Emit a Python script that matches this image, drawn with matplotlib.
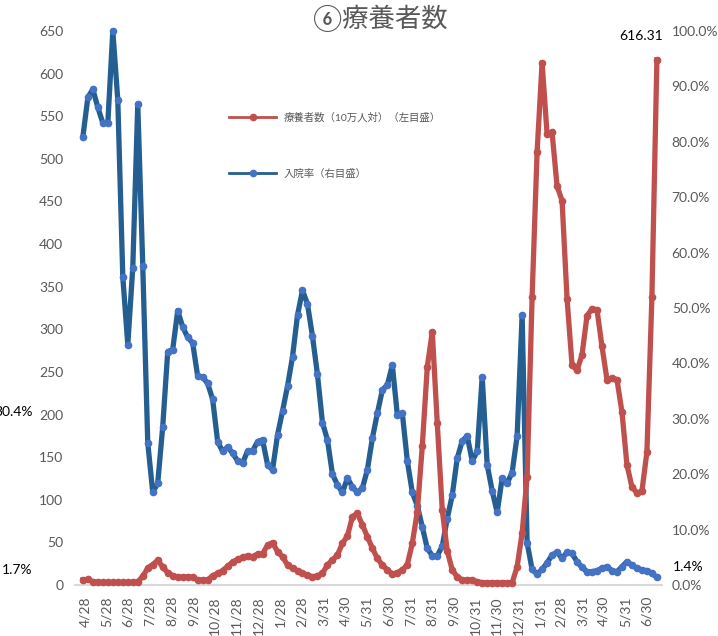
import numpy as np
import matplotlib
matplotlib.use("Agg")
import matplotlib.pyplot as plt
from matplotlib.lines import Line2D
import pandas as pd

plt.rcParams['font.family'] = ['Lato', 'Noto Sans CJK JP', 'DejaVu Sans']

# weekly points, first and last date
dates = pd.date_range('2020-04-25', '2022-07-14', periods=116)

# 療養者数 (per 100k, left axis)
ryoyo = [6, 6.5, 4, 3, 3, 3, 3, 3, 3, 3, 3, 4, 10, 20, 24, 29, 21, 14.5, 11, 9.5,
         9, 9.7, 9, 6, 6, 6, 11, 13.5, 17, 22, 27, 30, 32.5, 34, 33.2, 36.4, 36.4, 46.9, 49.6, 39.1,
         33.2, 23.5, 19.6, 16.8, 13.7, 11.7, 9.7, 10.6, 13.7, 23.5, 29.3, 35.2, 48.9, 57.5, 80.1, 84.1, 70.4, 56.7, 43.1, 31.3,
         23.5, 17.6, 12.9, 14.4, 17.6, 24, 49, 86, 163, 256, 297, 190, 88, 40, 17.6, 9.7, 5.9, 5.9, 5.9, 4,
         2.7, 2.7, 2.7, 2.7, 2.7, 2.7, 2.7, 21.5, 61, 127, 338, 508, 613, 529, 531, 468, 451, 336, 258, 252,
         270, 316, 324, 323, 280, 241, 243, 241, 203, 141, 115, 108, 110, 156, 338, 616.31]

# 入院率 (%, right axis)
nyuin = [80.9, 88.0, 89.5, 86.2, 83.4, 83.4, 100.0, 87.5, 55.6, 43.4, 57.3, 86.8, 57.6, 25.7, 16.7, 18.4, 28.6, 42.1, 42.5,
         49.5, 46.6, 44.7, 43.7, 37.7, 37.5, 36.4, 33.5, 25.9, 24.1, 24.9, 23.8, 22.4, 22.0, 24.2, 24.2, 25.9, 26.2, 21.7, 20.8, 27.1,
         31.4, 35.9, 41.2, 48.7, 53.2, 50.7, 44.9, 38.0, 29.3, 26.2, 20.0, 18.1, 16.7, 19.3, 17.7, 16.7, 17.5, 20.8, 26.5, 31.0,
         35.2, 36.1, 39.7, 30.7, 31.0, 22.4, 16.7, 14.3, 10.5, 6.6, 5.3, 5.3, 7.0, 12.0, 16.2, 22.9, 26.0, 26.9, 22.4, 24.1,
         37.6, 21.7, 17.0, 13.1, 19.3, 18.4, 20.3, 26.9, 48.7, 7.6, 2.8, 2.0, 2.8, 4.0, 5.4, 5.9, 4.8, 5.9, 5.7, 4.2,
         3.2, 2.4, 2.4, 2.6, 3.0, 3.3, 2.6, 2.4, 3.3, 4.2, 3.6, 3.0, 2.7, 2.6, 2.1, 1.4]

tick_dates = ['2020-04-28', '2020-05-28', '2020-06-28', '2020-07-28', '2020-08-28', '2020-09-28',
              '2020-10-28', '2020-11-28', '2020-12-28', '2021-01-28', '2021-02-28', '2021-03-31',
              '2021-04-30', '2021-05-31', '2021-06-30', '2021-07-31', '2021-08-31', '2021-09-30',
              '2021-10-31', '2021-11-30', '2021-12-31', '2022-01-31', '2022-02-28', '2022-03-31',
              '2022-04-30', '2022-05-31', '2022-06-30']

W, H = 718, 636
red = '#C0504D'
blue = '#255E91'
blue_mk = '#4472C4'
gray = '#595959'

fig = plt.figure(figsize=(W / 100, H / 100), dpi=100)
ax = fig.add_axes([75 / W, (H - 585) / H, (662 - 75) / W, 554 / H])
ax2 = ax.twinx()

ax.plot(dates, ryoyo, color=red, lw=3.8, marker='o', ms=4.5, mfc=red, mec=red,
        zorder=3, clip_on=False, solid_joinstyle='round')
ax2.plot(dates, nyuin, color=blue, lw=3.8, marker='o', ms=4.5, mfc=blue_mk, mec=blue_mk,
         zorder=3, clip_on=False, solid_joinstyle='round')

# red series on top of blue
ax.set_zorder(ax2.get_zorder() + 1)
ax.patch.set_visible(False)

t0 = pd.Timestamp('2020-04-28')
ax.set_xlim(t0 - pd.Timedelta(days=14.1), t0 + pd.Timedelta(days=814.2))
ax.set_ylim(0, 650)
ax2.set_ylim(0, 100)

ax.set_yticks(np.arange(0, 651, 50))
ax2.set_yticks(np.arange(0, 101, 10))
ax2.set_yticklabels(['%.1f%%' % v for v in np.arange(0, 101, 10)])

ticks = pd.to_datetime(tick_dates)
ax.set_xticks(ticks)
ax.set_xticklabels([f'{d.month}/{d.day}' for d in ticks], rotation=90)

for a in (ax, ax2):
    for s in a.spines.values():
        s.set_visible(False)
ax.spines['bottom'].set_visible(True)
ax.spines['bottom'].set_color('#D9D9D9')
ax.spines['bottom'].set_linewidth(1.5)

ax.tick_params(axis='y', length=0, pad=8.5, labelsize=10, labelcolor=gray)
ax2.tick_params(axis='y', length=0, pad=7, labelsize=10, labelcolor=gray)
ax.tick_params(axis='x', length=0, pad=8, labelsize=10, labelcolor=gray)

# title
fig.text(380 / W, 1 - 18 / H, '⑥療養者数', ha='center', va='center', fontsize=19, color=gray)

# data labels (the 30.4% one is cut by the left edge, as in the original)
fig.text(641 / W, 1 - 36 / H, '616.31', ha='center', va='center', fontsize=10, color='black')
fig.text(673 / W, 1 - 567 / H, '1.4%', ha='left', va='center', fontsize=10, color='black')
fig.text(2 / W, 1 - 570 / H, '1.7%', ha='left', va='center', fontsize=10, color='black')
fig.text(33 / W, 1 - 412 / H, '30.4%', ha='right', va='center', fontsize=10, color='black')

# legend
handles = [Line2D([], [], color=red, lw=2, marker='o', ms=4.5, mfc=red, mec=red),
           Line2D([], [], color=blue, lw=2, marker='o', ms=4.5, mfc=blue_mk, mec=blue_mk)]
leg = fig.legend(handles, ['療養者数（10万人対）（左目盛）', '入院率（右目盛）'],
                 loc='upper left', bbox_to_anchor=(220 / W, 1 - 103 / H), frameon=False,
                 fontsize=7.5, labelspacing=4.45, handlelength=4.5, handletextpad=0.7)
for t in leg.get_texts():
    t.set_color(gray)

fig.savefig('out.png', dpi=100)
